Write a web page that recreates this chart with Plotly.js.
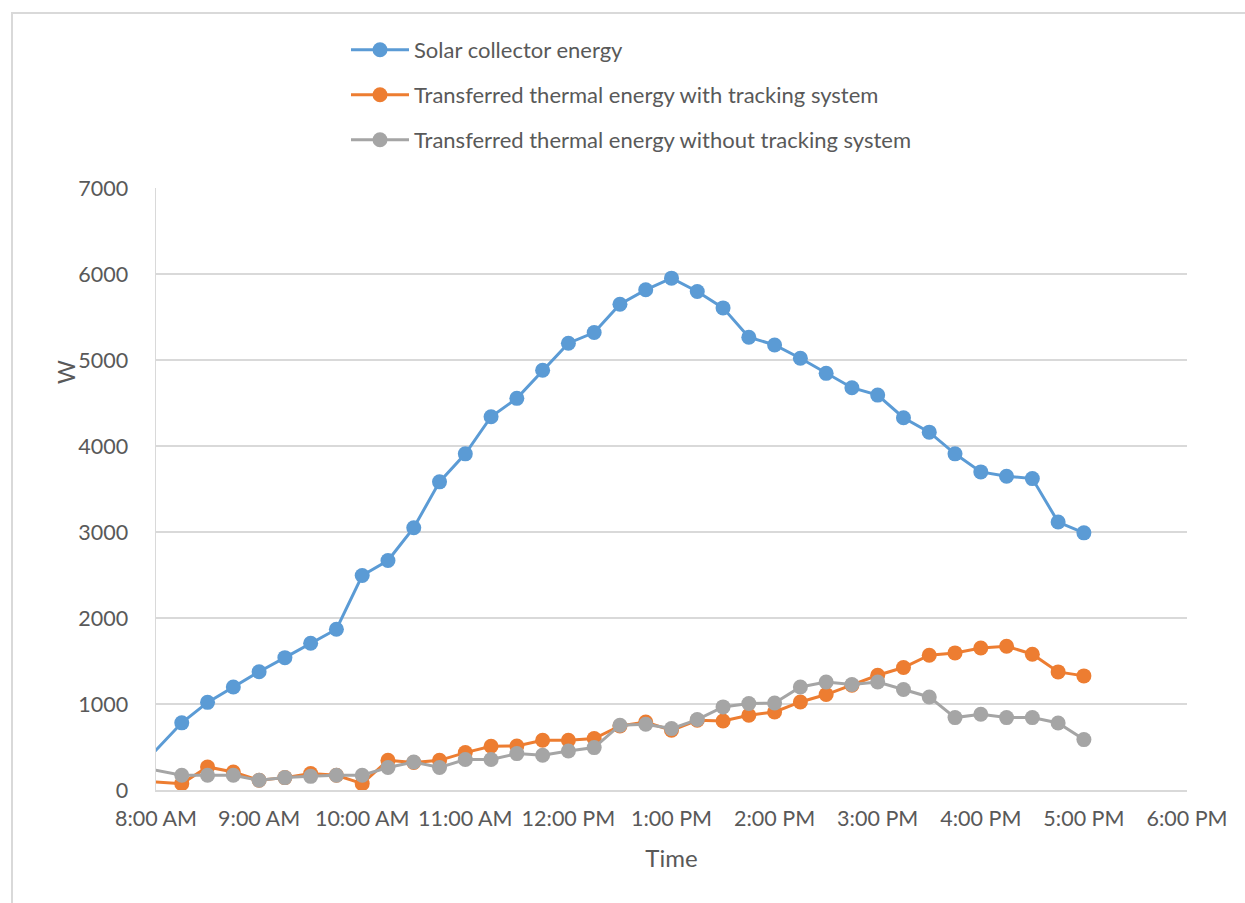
<!DOCTYPE html>
<html>
<head>
<meta charset="utf-8">
<script src="https://cdn.plot.ly/plotly-3.0.1.min.js"></script>
<style>
  html, body { margin:0; padding:0; background:#fff; overflow:hidden; }
  #frame { position:absolute; left:11px; top:12px; width:1400px; height:1000px; border:2px solid #D9D9D9; box-sizing:border-box; }
  #chart { position:absolute; left:0; top:0; width:1245px; height:903px; }
</style>
</head>
<body>
<div id="frame"></div>
<div id="chart"></div>
<script>
// Time of each reading (15-minute steps; the first one lies before the axis start)
const times = ['07:45','08:15','08:30','08:45','09:00','09:15','09:30','09:45','10:00','10:15','10:30','10:45',
  '11:00','11:15','11:30','11:45','12:00','12:15','12:30','12:45','13:00','13:15','13:30','13:45',
  '14:00','14:15','14:30','14:45','15:00','15:15','15:30','15:45','16:00','16:15','16:30','16:45','17:00'];

const solarCollector = [145,781,1019,1197,1375,1539,1706,1869,2494,2668,3050,3583,
  3909,4340,4554,4880,5195,5319,5649,5816,5952,5797,5606,5265,
  5175,5020,4845,4678,4592,4329,4161,3909,3699,3648,3621,3116,2990];

const withTracking = [112,74,268,209,113,144,191,171,74,345,319,345,
  435,508,512,578,578,598,745,791,694,811,803,869,
  907,1024,1110,1218,1334,1424,1567,1594,1652,1672,1579,1373,1327];

const withoutTracking = [289,171,171,171,113,144,159,171,171,261,326,261,
  354,354,423,404,454,493,753,764,714,819,966,1005,
  1012,1198,1256,1226,1256,1168,1082,842,881,842,842,779,586];

const seriesNames = ['Solar collector energy',
  'Transferred thermal energy with tracking system',
  'Transferred thermal energy without tracking system'];
const seriesColors = ['#5B9BD5', '#ED7D31', '#A5A5A5'];
const yTicks = [0,1000,2000,3000,4000,5000,6000,7000];

const day = '2020-01-01 ';
const xs = times.map(t => day + t);

const seriesValues = [solarCollector, withTracking, withoutTracking];
const legendIds = ['legend', 'legend2', 'legend3'];

const traces = seriesValues.map((vals, i) => ({
  type: 'scatter',
  mode: 'lines+markers',
  x: xs,
  y: vals,
  name: seriesNames[i],
  line: { color: seriesColors[i], width: 3 },
  marker: { color: seriesColors[i], size: 15 },
  legend: legendIds[i],
  cliponaxis: true
}));

const font = 'Lato, "Open Sans", sans-serif';
const txtColor = '#595959';

function legendAt(ypx) {
  return {
    x: (346 - 156) / 1031, xanchor: 'left',
    y: (790 - ypx) / 602, yanchor: 'middle',
    bgcolor: 'rgba(0,0,0,0)',
    font: { family: font, size: 22, color: txtColor },
    itemwidth: 58
  };
}

const layout = {
  width: 1245, height: 903,
  margin: { l: 156, r: 58, t: 188, b: 113, pad: 0 },
  paper_bgcolor: 'rgba(0,0,0,0)',
  plot_bgcolor: '#fff',
  font: { family: font, size: 22, color: txtColor },
  showlegend: true,
  legend: legendAt(50),
  legend2: legendAt(95),
  legend3: legendAt(140),
  xaxis: {
    type: 'date',
    range: [day + '08:00', day + '18:00'],
    tick0: day + '08:00',
    dtick: 3600000,
    tickformat: '%-I:%M %p',
    showgrid: false,
    showline: true, linecolor: '#D9D9D9', linewidth: 1.5,
    ticks: '', ticklabelstandoff: 9,
    tickfont: { family: font, size: 21.5, color: txtColor },
    title: { text: 'Time', font: { family: font, size: 24, color: txtColor }, standoff: 20 },
    zeroline: false, fixedrange: true
  },
  yaxis: {
    range: [0, 7000],
    tickvals: yTicks,
    ticktext: yTicks.map(String),
    showgrid: true, gridcolor: '#D9D9D9', gridwidth: 1.5,
    showline: true, linecolor: '#D9D9D9', linewidth: 1.5,
    zeroline: false,
    ticks: '', ticklabelstandoff: 22,
    tickfont: { family: font, size: 21.5, color: txtColor },
    fixedrange: true
  },
  annotations: [{
    text: 'W', xref: 'paper', yref: 'paper',
    x: (66 - 156) / 1031, y: (790 - 372) / 602,
    xanchor: 'center', yanchor: 'middle',
    textangle: -90, showarrow: false,
    font: { family: font, size: 23, color: txtColor }
  }]
};

Plotly.newPlot('chart', traces, layout, { displayModeBar: false, staticPlot: true });
</script>
</body>
</html>
